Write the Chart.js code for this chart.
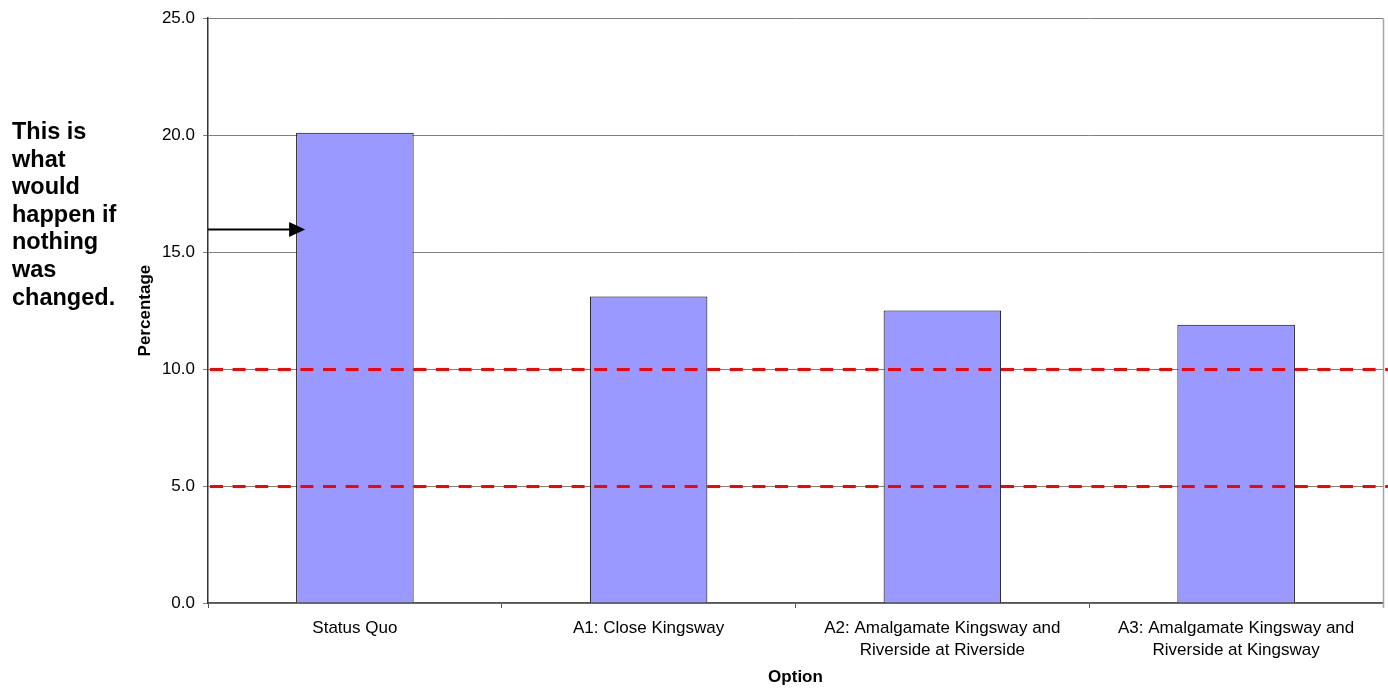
<!DOCTYPE html>
<html>
<head>
<meta charset="utf-8">
<script src="https://cdn.jsdelivr.net/npm/chart.js@4.4.1/dist/chart.umd.min.js"></script>
<style>
    html, body { margin: 0; padding: 0; background: #fff; }
    #wrap { position: relative; width: 1388px; height: 688px; }
    #note {
        position: absolute; left: 12px; top: 118px;
        font: bold 23.5px "Liberation Sans", Arial, sans-serif;
        line-height: 27.6px; color: #000;
    }
</style>
</head>
<body>
<div id="wrap">
    <canvas id="chart" width="1388" height="688"></canvas>
    <div id="note">This is<br>what<br>would<br>happen if<br>nothing<br>was<br>changed.</div>
</div>
<script>
// chart data
const options = [
    'Status Quo',
    'A1: Close Kingsway',
    ['A2: Amalgamate Kingsway and', 'Riverside at Riverside'],
    ['A3: Amalgamate Kingsway and', 'Riverside at Kingsway']
];
const percentages = [20.1, 13.1, 12.5, 11.9];
const targetLines = [10, 5];
const arrowValue = 16.0;
const yTicks = [0, 5, 10, 15, 20, 25];

const FONT = '"Liberation Sans", Arial, sans-serif';

// red dashed reference lines, the arrow and the right border
const overlayPlugin = {
    id: 'overlay',
    afterDatasetsDraw(chart) {
        const { ctx, chartArea, scales } = chart;
        const y = scales.y;
        ctx.save();

        // right edge of plot
        ctx.strokeStyle = '#a6a6a6';
        ctx.lineWidth = 1.5;
        ctx.beginPath();
        ctx.moveTo(chartArea.right + 0.5, chartArea.top);
        ctx.lineTo(chartArea.right + 0.5, chartArea.bottom + 5);
        ctx.stroke();

        // dashed lines
        ctx.strokeStyle = '#ff0000';
        ctx.lineWidth = 3;
        ctx.setLineDash([13, 9.6]);
        targetLines.forEach(v => {
            const py = Math.round(y.getPixelForValue(v)) + 0.5;
            ctx.beginPath();
            ctx.moveTo(chartArea.left + 2, py);
            ctx.lineTo(chart.width, py);
            ctx.stroke();
        });
        ctx.setLineDash([]);

        // arrow pointing at the status quo bar
        const bar = chart.getDatasetMeta(0).data[0];
        const tipX = bar.x - bar.width / 2 + 9;
        const ay = Math.round(y.getPixelForValue(arrowValue)) + 0.5;
        ctx.strokeStyle = '#000';
        ctx.fillStyle = '#000';
        ctx.lineWidth = 2;
        ctx.beginPath();
        ctx.moveTo(chartArea.left, ay);
        ctx.lineTo(tipX - 14, ay);
        ctx.stroke();
        ctx.beginPath();
        ctx.moveTo(tipX, ay);
        ctx.lineTo(tipX - 16, ay - 7.5);
        ctx.lineTo(tipX - 16, ay + 7.5);
        ctx.closePath();
        ctx.fill();

        ctx.restore();
    }
};

new Chart(document.getElementById('chart'), {
    type: 'bar',
    data: {
        labels: options,
        datasets: [{
            data: percentages,
            backgroundColor: '#9999ff',
            borderColor: '#000',
            borderWidth: 1,
            barPercentage: 0.4,
            categoryPercentage: 1
        }]
    },
    options: {
        responsive: false,
        animation: false,
        layout: { padding: { left: 131, top: 18, right: 5, bottom: 0 } },
        plugins: {
            legend: { display: false },
            tooltip: { enabled: false }
        },
        scales: {
            x: {
                afterFit: s => { s.height = 85; },
                grid: {
                    drawOnChartArea: false,
                    drawTicks: true,
                    tickLength: 5,
                    color: '#555'
                },
                border: { color: '#555', width: 1.5 },
                ticks: {
                    color: '#000',
                    padding: 9,
                    maxRotation: 0,
                    autoSkip: false,
                    font: { family: FONT, size: 17, lineHeight: 1.3 }
                },
                title: {
                    display: true,
                    text: 'Option',
                    color: '#000',
                    padding: { top: 4, bottom: 0 },
                    font: { family: FONT, size: 17, weight: 'bold' }
                }
            },
            y: {
                min: 0,
                max: 25,
                afterFit: s => { s.width = 77; },
                afterBuildTicks: s => { s.ticks = yTicks.map(v => ({ value: v })); },
                grid: {
                    color: '#808080',
                    tickLength: 5,
                    lineWidth: 1
                },
                border: { color: '#333', width: 1.5 },
                ticks: {
                    color: '#000',
                    padding: 8,
                    callback: v => v.toFixed(1),
                    font: { family: FONT, size: 17 }
                },
                title: {
                    display: true,
                    text: 'Percentage',
                    color: '#000',
                    padding: { top: 4, bottom: 4 },
                    font: { family: FONT, size: 17, weight: 'bold' }
                }
            }
        }
    },
    plugins: [overlayPlugin]
});
</script>
</body>
</html>
